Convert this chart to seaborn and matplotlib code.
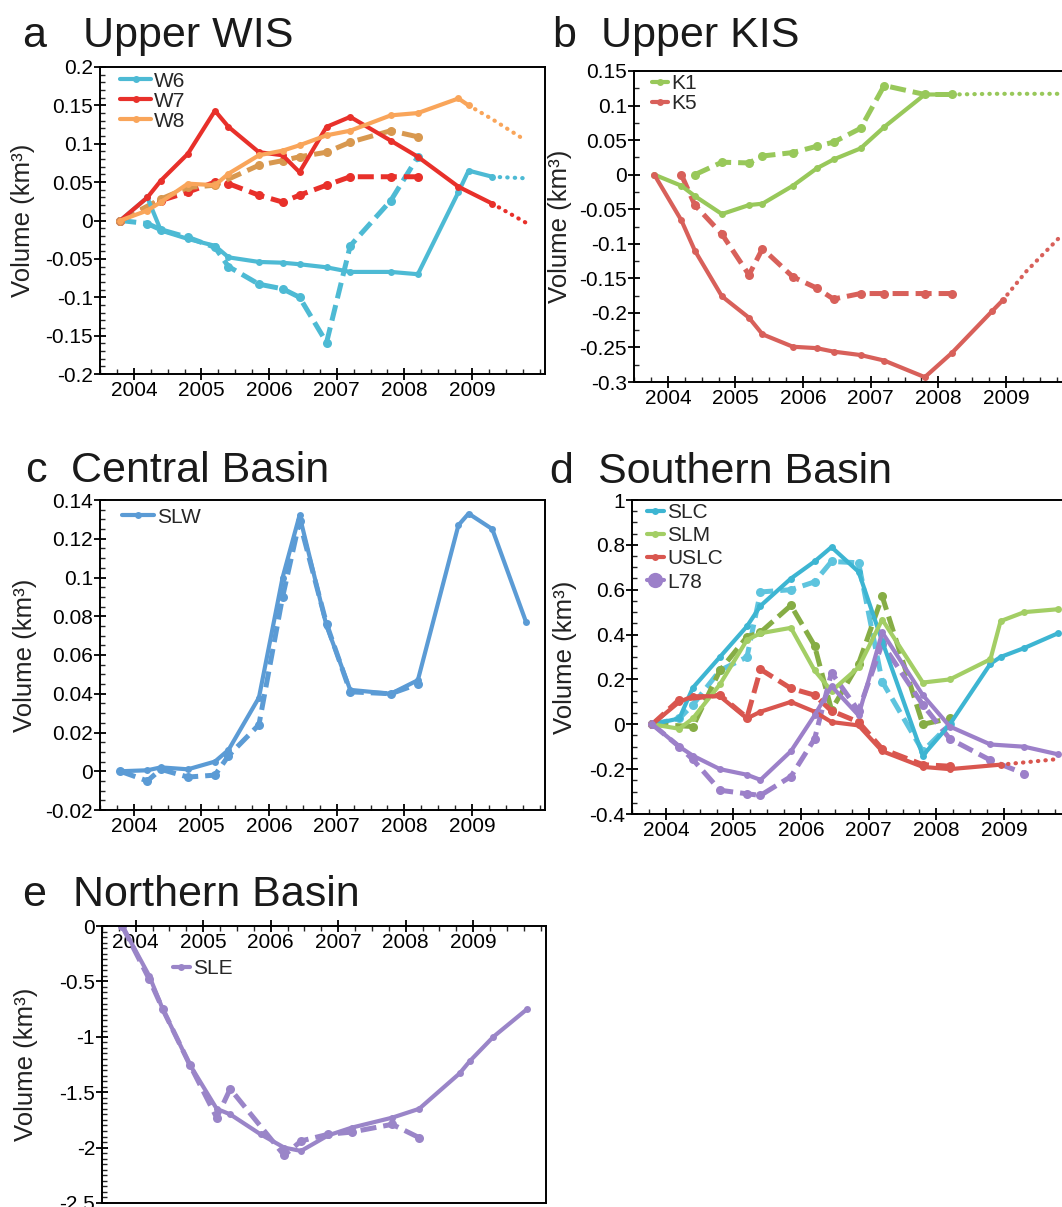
import numpy as np
import matplotlib
matplotlib.use("Agg")
import matplotlib.pyplot as plt
from matplotlib.ticker import MultipleLocator, FixedLocator, FuncFormatter
import seaborn as sns

sns.set_theme(style="ticks")
plt.rcParams["font.family"] = ["Liberation Sans", "DejaVu Sans"]
plt.rcParams["axes.unicode_minus"] = False

N = np.nan
# ICESat campaign epochs (decimal years)
t = [2003.8, 2004.2, 2004.4, 2004.8, 2005.2, 2005.4, 2005.85, 2006.2, 2006.45,
     2006.85, 2007.2, 2007.8, 2008.2, 2008.8, 2008.95, 2009.3, 2009.8]
years = [2004, 2005, 2006, 2007, 2008, 2009]

# a  Upper WIS
w6_solid = [0, 0.03, -0.013, -0.024, -0.033, -0.048, -0.054, -0.055, -0.057, -0.061, -0.067, -0.067, -0.07, 0.037, 0.065, 0.057, N]
w6_dash = [0, -0.004, -0.012, -0.022, -0.035, -0.06, -0.083, -0.089, -0.1, -0.159, -0.033, 0.026, 0.083, N, N, N, N]
w6_dot = [N, N, N, N, N, N, N, N, N, N, N, N, N, N, N, 0.057, 0.055]
w7_solid = [0, 0.03, 0.052, 0.087, 0.143, 0.122, 0.089, 0.085, 0.063, 0.122, 0.135, 0.104, 0.083, 0.044, N, 0.022, N]
w7_dash = [0, N, 0.026, 0.037, 0.05, 0.048, 0.033, 0.024, 0.033, 0.046, 0.057, 0.057, 0.057, N, N, N, N]
w7_dot = [N, N, N, N, N, N, N, N, N, N, N, N, N, N, N, 0.022, -0.003]
w8_solid = [0, 0.013, 0.024, 0.048, 0.046, 0.061, 0.085, 0.091, 0.098, 0.111, 0.117, 0.137, 0.14, 0.159, 0.15, N, N]
w8_dash = [0, N, 0.028, 0.043, 0.046, N, 0.072, 0.078, 0.083, 0.089, 0.102, 0.117, 0.109, N, N, N, N]
w8_dot = [N, N, N, N, N, N, N, N, N, N, N, N, N, N, 0.15, 0.132, 0.104]

# b  Upper KIS
k1_solid = [0, -0.016, -0.031, -0.057, -0.044, -0.042, -0.016, 0.009, 0.022, 0.038, 0.069, 0.116, 0.116, N, N, N, N]
k1_dash = [N, N, 0.0, 0.018, 0.017, 0.027, 0.032, 0.041, 0.047, 0.067, 0.129, 0.116, 0.116, N, N, N, N]
k1_dot = [N, N, N, N, N, N, N, N, N, N, N, N, 0.116, 0.117, N, 0.117, 0.117]
k5_solid = [0, -0.066, -0.11, -0.176, -0.207, -0.231, -0.249, -0.251, -0.256, -0.261, -0.269, -0.293, -0.258, -0.197, -0.182, N, N]
k5_dash = [N, 0.0, -0.044, -0.086, -0.145, -0.107, -0.148, -0.164, -0.18, -0.172, -0.172, -0.172, -0.172, N, N, N, N]
k5_dot = [N, N, N, N, N, N, N, N, N, N, N, N, N, N, -0.182, -0.14, -0.09]

# c  Central Basin
slw_solid = [0, 0.0005, 0.002, 0.001, 0.005, 0.011, 0.038, 0.1, 0.132, 0.075, 0.042, 0.04, 0.047, 0.127, 0.133, 0.125, 0.077]
slw_dash = [0, -0.005, 0.001, -0.003, -0.002, 0.008, 0.024, 0.09, 0.129, 0.076, 0.041, 0.04, 0.045, N, N, N, N]

# d  Southern Basin
slc_solid = [0, 0.026, 0.163, 0.3, 0.437, 0.528, 0.65, 0.726, 0.79, 0.68, 0.37, -0.14, 0.0, 0.27, 0.3, 0.34, 0.406]
slc_dash = [0, 0.026, 0.087, 0.24, 0.3, 0.59, 0.6, 0.635, 0.726, 0.72, 0.19, -0.12, 0.0, N, N, N, N]
slm_solid = [0, -0.02, 0.026, 0.178, 0.376, 0.406, 0.43, 0.24, 0.148, 0.254, 0.467, 0.186, 0.2, 0.29, 0.46, 0.5, 0.513]
slm_dash = [0, N, -0.01, 0.24, 0.39, 0.41, 0.53, 0.35, 0.064, 0.27, 0.57, 0.0, 0.026, N, N, N, N]
uslc_solid = [0, 0.1, 0.125, 0.125, 0.026, 0.056, 0.1, 0.056, 0.01, -0.005, -0.12, -0.19, -0.2, N, -0.18, N, N]
uslc_dash = [0, 0.11, N, 0.13, 0.03, 0.245, 0.16, 0.13, 0.06, 0.01, -0.11, -0.18, -0.187, N, N, N, N]
uslc_dot = [N, N, N, N, N, N, N, N, N, N, N, N, N, N, -0.18, -0.17, -0.155]
l78_solid = [0, -0.1, -0.14, -0.2, -0.225, -0.248, -0.12, 0.04, 0.17, 0.04, 0.41, 0.13, -0.01, -0.09, N, -0.1, -0.134]
l78_dash = [0, -0.1, -0.157, -0.294, -0.31, -0.317, -0.233, -0.065, 0.23, 0.06, 0.36, 0.087, -0.065, -0.16, N, -0.22, N]

# e  Northern Basin
sle_solid = [0, -0.45, -0.75, -1.25, -1.65, -1.7, -1.88, -2.0, -2.03, -1.89, -1.82, -1.73, -1.65, -1.33, -1.22, -1.0, -0.75]
sle_dash = [0, -0.48, -0.75, -1.25, -1.73, -1.47, N, -2.07, -1.94, -1.88, -1.86, -1.79, -1.91, N, N, N, N]

W, H = 1062, 1207
fig = plt.figure(figsize=(W / 100, H / 100), dpi=100)


def box(l, top, r, b):
    return fig.add_axes([l / W, 1 - b / H, (r - l) / W, (b - top) / H])


def draw(ax, ys, color, kind, label=None, ms=5):
    x = np.array(t)
    y = np.array(ys, dtype=float)
    m = ~np.isnan(y)
    if kind == "solid":
        st = dict(linestyle="-", lw=3, marker="o", ms=ms)
    elif kind == "dash":
        st = dict(linestyle=(0, (3.2, 1.4)), lw=3.6, marker="o", ms=ms + 1.5)
    else:
        st = dict(linestyle=(0, (0.1, 1.7)), lw=3, dash_capstyle="round")
    sns.lineplot(x=x[m], y=y[m], ax=ax, color=color, mec=color, mew=0,
                 label=label, legend=False, errorbar=None, sort=False, **st)


def style(ax, ylim, major, minor, ylab_x):
    ax.set_xlim(2003.5, 2010.08)
    ax.set_ylim(*ylim)
    ax.xaxis.set_major_locator(FixedLocator(years))
    ax.xaxis.set_minor_locator(MultipleLocator(0.25))
    ax.xaxis.set_major_formatter(FuncFormatter(lambda v, _: f"{int(round(v))}"))
    ax.yaxis.set_major_locator(MultipleLocator(major))
    ax.yaxis.set_minor_locator(MultipleLocator(minor))
    ax.yaxis.set_major_formatter(FuncFormatter(lambda v, _: f"{round(v, 3) + 0:g}"))
    ax.tick_params(which="major", direction="inout", length=8, width=1.3,
                   labelsize=15, pad=1, colors="black")
    ax.tick_params(which="minor", direction="in", length=3.5, width=1)
    for s in ax.spines.values():
        s.set_linewidth(1.4)
        s.set_color("black")
    ax.set_ylabel("Volume (km³)", fontsize=18.5, color="#222222")
    ax.yaxis.set_label_coords(ylab_x, 0.5)


def title(x1, x2, y, letter, text):
    fig.text(x1 / W, 1 - y / H, letter, fontsize=31, va="baseline", color="#1a1a1a")
    fig.text(x2 / W, 1 - y / H, text, fontsize=31, va="baseline", color="#1a1a1a")


def legend(ax, x, y, hl, spacing=0.05):
    return ax.legend(loc="upper left", bbox_to_anchor=(x, y), frameon=False,
                     fontsize=15, handlelength=hl, handletextpad=0.15,
                     labelspacing=spacing, borderpad=0, borderaxespad=0,
                     numpoints=1)


# ---- a ----
ax = box(100, 67, 545, 374)
cyan, red, orange, tan = "#4DBAD4", "#E8302A", "#F9A55A", "#D8984F"
draw(ax, w6_dash, cyan, "dash")
draw(ax, w7_dash, red, "dash")
draw(ax, w8_dash, tan, "dash")
draw(ax, w6_solid, cyan, "solid", "W6")
draw(ax, w7_solid, red, "solid", "W7")
draw(ax, w8_solid, orange, "solid", "W8")
draw(ax, w6_dot, cyan, "dot")
draw(ax, w7_dot, red, "dot")
draw(ax, w8_dot, orange, "dot")
style(ax, (-0.2, 0.2), 0.05, 0.01, -0.146)
legend(ax, 0.045, 0.985, 1.5)
title(22, 83, 47, "a", "Upper WIS")

# ---- b ----
ax = box(634, 71, 1079, 382)
green, red2 = "#98C85A", "#D8605A"
draw(ax, k1_dash, green, "dash")
draw(ax, k5_dash, red2, "dash")
draw(ax, k1_solid, green, "solid", "K1")
draw(ax, k5_solid, red2, "solid", "K5")
draw(ax, k1_dot, green, "dot")
draw(ax, k5_dot, red2, "dot")
style(ax, (-0.3, 0.15), 0.05, 0.025, -0.139)
legend(ax, 0.04, 0.99, 0.8)
title(552, 601, 47, "b", "Upper KIS")

# ---- c ----
ax = box(100, 500, 545, 810)
blue = "#5B9BD5"
draw(ax, slw_dash, blue, "dash")
draw(ax, slw_solid, blue, "solid", "SLW")
style(ax, (-0.02, 0.14), 0.02, 0.005, -0.142)
legend(ax, 0.05, 0.975, 1.5)
title(25, 71, 482, "c", "Central Basin")

# ---- d ----
ax = box(632, 500, 1077, 814)
c_slc, c_slcd = "#3DB5D2", "#5EC4DE"
c_slm, c_slmd = "#A3CE65", "#86AD45"
c_uslc, c_l78 = "#D9564F", "#9C80C9"
draw(ax, slc_dash, c_slcd, "dash")
draw(ax, slm_dash, c_slmd, "dash")
draw(ax, uslc_dash, c_uslc, "dash")
draw(ax, l78_dash, c_l78, "dash")
draw(ax, slc_solid, c_slc, "solid", "SLC")
draw(ax, slm_solid, c_slm, "solid", "SLM")
draw(ax, uslc_solid, c_uslc, "solid", "USLC")
draw(ax, l78_solid, c_l78, "solid", "L78")
draw(ax, uslc_dot, c_uslc, "dot")
style(ax, (-0.4, 1.0), 0.2, 0.05, -0.124)
leg = legend(ax, 0.034, 0.99, 0.8, spacing=0.2)
leg.legend_handles[3].set_markersize(11)
title(549, 598, 483, "d", "Southern Basin")

# ---- e ----
ax = box(102, 926, 546, 1203)
purple = "#9A85C8"
draw(ax, sle_dash, purple, "dash")
draw(ax, sle_solid, purple, "solid", "SLE")
style(ax, (-2.5, 0.0), 0.5, 0.05, -0.145)
ax.xaxis.set_ticks_position("top")
ax.tick_params(axis="x", which="both", labeltop=True, labelbottom=False)
ax.tick_params(axis="x", which="major", pad=-23)
legend(ax, 0.16, 0.88, 0.8)
title(22, 73, 906, "e", "Northern Basin")

fig.savefig("out.png", dpi=100)
